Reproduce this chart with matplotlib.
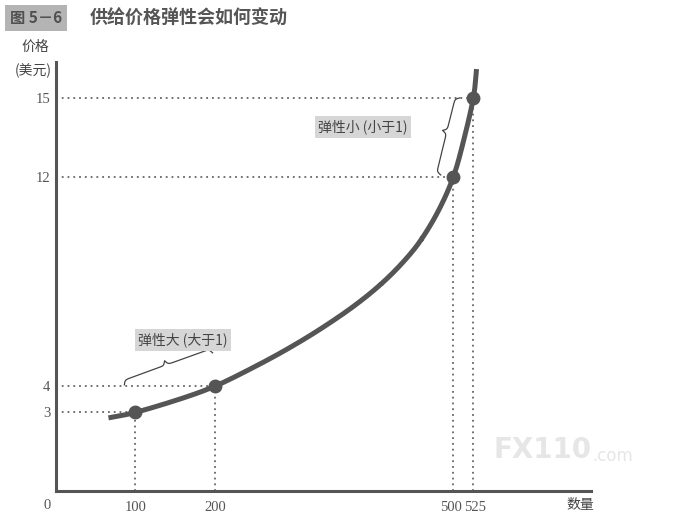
import numpy as np
import matplotlib
matplotlib.use("Agg")
import matplotlib.pyplot as plt
from matplotlib.transforms import ScaledTranslation

# ---- data ----
curve_q = [66, 100, 157, 200, 246, 290, 332, 374, 409, 438, 460, 482, 500, 513, 525, 529]
curve_p = [2.79, 3.0, 3.52, 4.0, 4.68, 5.40, 6.17, 7.04, 7.90, 8.78, 9.62, 10.75, 12.0, 13.4, 15.0, 16.1]
point_q = [100, 200, 500, 525]
point_p = [3, 4, 12, 15]
xtick_labels = ["100", "200", "500", "525"]
ytick_labels = ["3", "4", "12", "15"]
title_tag = "图 5－6"
title_text = "供给价格弹性会如何变动"
ylabel_top = "价格"
ylabel_bottom = "(美元)"
xlabel_text = "数量"
label_small = "弹性小 (小于1)"
label_large = "弹性大 (大于1)"

CJK = ["Noto Sans CJK SC", "DejaVu Sans"]
SERIF = ["Liberation Serif", "DejaVu Serif"]
DARK = "#555555"

fig = plt.figure(figsize=(6.89, 5.17), dpi=100)
W, H = 689, 517
ax = fig.add_axes([56 / W, 26 / H, 535 / W, 429 / H])
ax.set_xlim(0, 673)
ax.set_ylim(0, 16.37)
for s in ["top", "right"]:
    ax.spines[s].set_visible(False)
for s in ["left", "bottom"]:
    ax.spines[s].set_color(DARK)
    ax.spines[s].set_linewidth(2.2)
ax.set_xticks(point_q)
ax.set_xticklabels(xtick_labels, fontfamily=SERIF, fontsize=10.5, color=DARK)
ax.set_yticks(point_p)
ax.set_yticklabels(ytick_labels, fontfamily=SERIF, fontsize=10.5, color=DARK)
ax.tick_params(length=0, pad=4)
ax.tick_params(axis="x", pad=7)
# small nudges so the close 500/525 labels don't collide
shifts = [0, 0, -2.5, 1.5]
for lab, dx in zip(ax.get_xticklabels(), shifts):
    lab.set_transform(lab.get_transform() + ScaledTranslation(dx / 100, 0, fig.dpi_scale_trans))
ax.text(-11, -0.55, "0", ha="center", va="center", fontfamily=SERIF, fontsize=10.5, color=DARK, clip_on=False)

# dotted guide lines
for q, p in zip(point_q, point_p):
    ax.plot([0, q], [p, p], color="#666666", lw=1.3, ls=(0, (1, 2.2)), zorder=2)
    ax.plot([q, q], [0, p], color="#666666", lw=1.3, ls=(0, (1, 2.2)), zorder=2)

# smooth curve (Catmull-Rom through read points, in display space)
fig.canvas.draw()
pts = ax.transData.transform(np.column_stack([curve_q, curve_p]))
P = np.vstack([2 * pts[0] - pts[1], pts, 2 * pts[-1] - pts[-2]])
seg = []
t = np.linspace(0, 1, 20)[:, None]
for i in range(1, len(P) - 2):
    p0, p1, p2, p3 = P[i - 1], P[i], P[i + 1], P[i + 2]
    c = 0.5 * ((2 * p1) + (-p0 + p2) * t + (2 * p0 - 5 * p1 + 4 * p2 - p3) * t**2
               + (-p0 + 3 * p1 - 3 * p2 + p3) * t**3)
    seg.append(c)
smooth = ax.transData.inverted().transform(np.vstack(seg))
ax.plot(smooth[:, 0], smooth[:, 1], color=DARK, lw=3.6, solid_capstyle="butt", zorder=3)
ax.plot(point_q, point_p, "o", color=DARK, ms=9, zorder=4)


def brace(ax, d1, d2, depth, nib_t=0.5, beta=0.9, **kw):
    """Curly brace from d1 to d2 (data coords), built in pixel space.
    depth>0 puts the nib to the left of the d1->d2 direction."""
    a = ax.transData.transform(d1)
    b = ax.transData.transform(d2)
    v = b - a
    L = np.hypot(*v)
    u = v / L
    n = np.array([-u[1], u[0]])
    m = nib_t * L
    x1 = np.linspace(0, m, 150)
    y1 = 1 / (1 + np.exp(-beta * (x1 - 0))) + 1 / (1 + np.exp(-beta * (x1 - m)))
    x2 = np.linspace(m, L, 150)
    y2 = 1 / (1 + np.exp(-beta * (L - x2))) + 1 / (1 + np.exp(-beta * (m - x2)))
    x = np.concatenate([x1, x2])
    y = (np.concatenate([y1, y2]) - 0.5) * depth
    xy = a[None, :] + x[:, None] * u[None, :] + y[:, None] * n[None, :]
    dd = ax.transData.inverted().transform(xy)
    ax.plot(dd[:, 0], dd[:, 1], clip_on=False, **kw)


brace(ax, (508, 15.0), (484, 12.06), -9, nib_t=0.45, color="#444444", lw=0.9)
brace(ax, (86, 4.05), (197, 5.27), 9, nib_t=0.49, color="#444444", lw=0.9)

box = dict(boxstyle="square,pad=0.25", fc="#d6d6d6", ec="none")
ax.text(386, 13.88, label_small, ha="center", va="center", fontfamily=CJK, fontsize=10, color="#444444", bbox=box)
ax.text(160, 5.76, label_large, ha="center", va="center", fontfamily=CJK, fontsize=10, color="#444444", bbox=box)

# axis labels
fig.text(35 / W, 1 - 47 / H, ylabel_top, ha="center", va="center", fontfamily=CJK, fontsize=10, color="#444444")
fig.text(33 / W, 1 - 71 / H, ylabel_bottom, ha="center", va="center", fontfamily=CJK, fontsize=10, color="#444444")
fig.text(580 / W, 1 - 505 / H, xlabel_text, ha="center", va="center", fontfamily=CJK, fontsize=10, color="#444444")

# title
fig.text(36 / W, 1 - 18 / H, title_tag, ha="center", va="center", fontfamily=CJK, fontsize=11, fontweight="bold",
         color="#505050", bbox=dict(boxstyle="square,pad=0.3", fc="#b4b4b4", ec="none"))
fig.text(90 / W, 1 - 18 / H, title_text, ha="left", va="center", fontfamily=CJK, fontsize=13, fontweight="bold",
         color="#555555")

# watermark
fig.text(493 / W, 1 - 450 / H, "FX110", ha="left", va="center", fontfamily=["DejaVu Sans"], fontsize=20,
         fontweight="bold", color="#e6e6e6", zorder=0)
fig.text(592 / W, 1 - 456 / H, ".com", ha="left", va="center", fontfamily=["DejaVu Sans"], fontsize=12,
         color="#e6e6e6", zorder=0)

fig.savefig("out.png", dpi=100)
